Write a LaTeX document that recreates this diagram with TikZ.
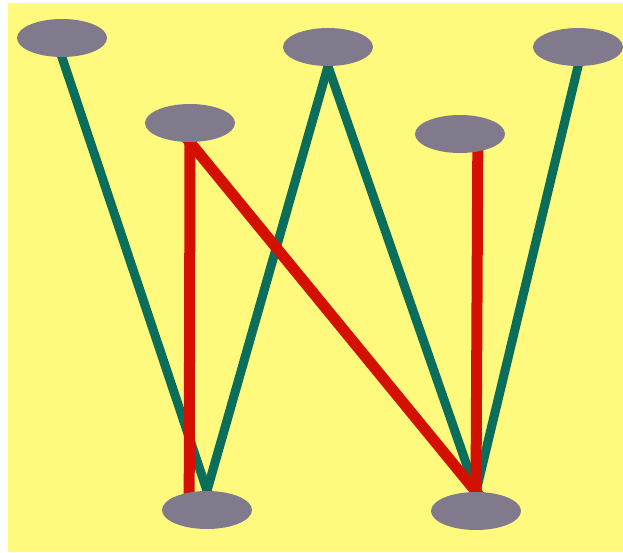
\documentclass[tikz,border=0pt]{standalone}
\usetikzlibrary{shapes.geometric}
\definecolor{bgyellow}{RGB}{255,250,125}
\definecolor{nodegray}{RGB}{128,122,140}
\definecolor{edgeteal}{RGB}{10,110,90}
\definecolor{edgered}{RGB}{212,16,0}
\pgfdeclarelayer{bg}
\pgfdeclarelayer{edges}
\pgfsetlayers{bg,edges,main}
\begin{document}
\begin{tikzpicture}[x=0.02cm, y=-0.02cm,
  dot/.style={ellipse, fill=nodegray, minimum width=1.8cm, minimum height=0.76cm, inner sep=0pt},
  tealedge/.style={edgeteal, line width=0.18cm, shorten <=-0.15cm, shorten >=-0.15cm},
  rededge/.style={edgered, line width=0.22cm, shorten <=-0.15cm, shorten >=-0.15cm}]
\useasboundingbox (0,0) rectangle (623,552);

% 背景
\begin{pgfonlayer}{bg}
\fill[white] (0,0) rectangle (623,552);
\fill[bgyellow] (8,3) rectangle (623,552);
\end{pgfonlayer}

% 顶点
\node[dot] (tl) at (62,38) {};
\node[dot] (tm) at (328,47) {};
\node[dot] (tr) at (578,47) {};
\node[dot] (ml) at (190,123) {};
\node[dot] (mr) at (460,134) {};
\node[dot] (bl) at (207,510) {};
\node[dot] (br) at (476,511) {};

% 绿色的边
\begin{pgfonlayer}{edges}
\draw[tealedge] (tl.south) -- (bl.north);
\draw[tealedge] (tm.south) -- (bl.north);
\draw[tealedge] (tm.south) -- (br.north);
\draw[tealedge] (tr.south) -- (br.north);

% 红色的边
\draw[rededge] (ml.south) -- (bl.135);
\draw[rededge] (ml.south) -- (br.north);
\draw[rededge] (mr.-45) -- (br.north);
\end{pgfonlayer}
\end{tikzpicture}
\end{document}
